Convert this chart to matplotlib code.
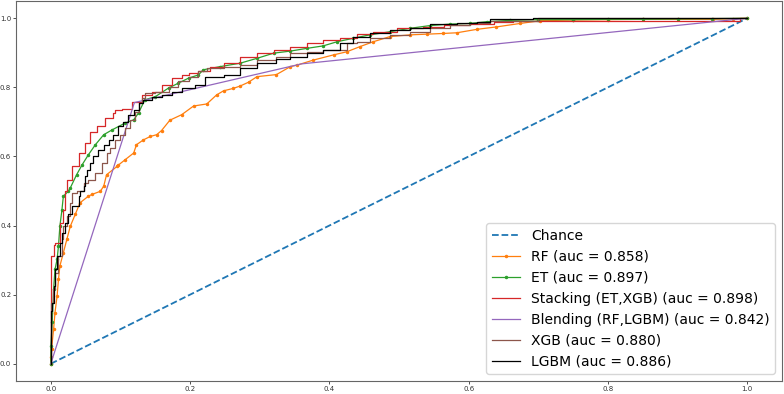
import matplotlib
matplotlib.use("Agg")
import matplotlib.pyplot as plt

# ---- data ----
chance_fpr = [0.0, 1.0]
chance_tpr = [0.0, 1.0]

rf_fpr = [0.0, 0.0, 0.001, 0.004, 0.006, 0.009, 0.011, 0.013, 0.018, 0.023, 0.028, 0.035,
          0.042, 0.054, 0.059, 0.071, 0.076, 0.080, 0.095, 0.097, 0.107, 0.119, 0.123,
          0.133, 0.143, 0.152, 0.159, 0.171, 0.188, 0.205, 0.224, 0.238, 0.248, 0.262,
          0.272, 0.284, 0.296, 0.324, 0.344, 0.353, 0.377, 0.406, 0.425, 0.444, 0.463,
          0.487, 0.516, 0.540, 0.563, 0.583, 0.612, 0.640, 0.674, 0.703, 0.75, 0.80,
          0.85, 0.90, 0.951, 0.98, 1.0]
rf_tpr = [0.0, 0.02, 0.042, 0.10, 0.148, 0.196, 0.244, 0.283, 0.321, 0.36, 0.398, 0.432,
          0.466, 0.485, 0.490, 0.499, 0.514, 0.547, 0.571, 0.575, 0.591, 0.610, 0.634,
          0.648, 0.658, 0.663, 0.675, 0.705, 0.721, 0.746, 0.752, 0.778, 0.790, 0.797,
          0.804, 0.815, 0.831, 0.837, 0.860, 0.864, 0.879, 0.894, 0.903, 0.918, 0.932,
          0.947, 0.952, 0.954, 0.956, 0.958, 0.968, 0.975, 0.985, 0.993, 0.995, 0.996,
          0.997, 0.997, 0.997, 0.999, 1.0]

et_fpr = [0.0, 0.0, 0.002, 0.004, 0.006, 0.009, 0.011, 0.013, 0.016, 0.018, 0.025, 0.028,
          0.037, 0.045, 0.054, 0.064, 0.076, 0.088, 0.107, 0.119, 0.126, 0.135, 0.150,
          0.169, 0.183, 0.198, 0.212, 0.219, 0.243, 0.272, 0.296, 0.320, 0.344, 0.368,
          0.391, 0.411, 0.434, 0.458, 0.487, 0.516, 0.545, 0.573, 0.602, 0.626, 0.66,
          0.70, 0.75, 0.80, 0.85, 0.90, 0.95, 1.0]
et_tpr = [0.0, 0.05, 0.12, 0.216, 0.273, 0.302, 0.341, 0.398, 0.446, 0.485, 0.499, 0.509,
          0.547, 0.576, 0.605, 0.634, 0.663, 0.677, 0.697, 0.706, 0.726, 0.764, 0.773,
          0.798, 0.812, 0.827, 0.836, 0.851, 0.860, 0.870, 0.884, 0.899, 0.905, 0.913,
          0.920, 0.932, 0.942, 0.952, 0.961, 0.971, 0.979, 0.983, 0.985, 0.990, 0.994,
          0.996, 0.996, 0.997, 0.997, 0.998, 0.999, 1.0]

stk_fpr = [0.0, 0.0, 0.004, 0.006, 0.013, 0.018, 0.021, 0.023, 0.030, 0.040, 0.049, 0.056,
           0.066, 0.078, 0.090, 0.092, 0.102, 0.116, 0.131, 0.145, 0.159, 0.174, 0.188,
           0.198, 0.212, 0.229, 0.248, 0.272, 0.296, 0.320, 0.344, 0.368, 0.391, 0.415,
           0.439, 0.463, 0.497, 0.535, 0.564, 0.602, 0.636, 0.664, 0.712, 0.80, 0.90,
           0.99, 1.0]
stk_tpr = [0.0, 0.216, 0.312, 0.345, 0.350, 0.408, 0.446, 0.499, 0.533, 0.571, 0.610, 0.639,
           0.672, 0.687, 0.711, 0.726, 0.735, 0.737, 0.759, 0.778, 0.788, 0.807, 0.827,
           0.836, 0.841, 0.846, 0.860, 0.870, 0.889, 0.899, 0.908, 0.918, 0.928, 0.937,
           0.942, 0.954, 0.961, 0.971, 0.976, 0.980, 0.983, 0.990, 0.991, 0.991, 0.991,
           0.991, 1.0]

bld_fpr = [0.0, 0.12, 0.36, 1.0]
bld_tpr = [0.0, 0.756, 0.868, 1.0]

xgb_fpr = [0.0, 0.0, 0.003, 0.006, 0.011, 0.016, 0.018, 0.023, 0.028, 0.030, 0.037,
           0.047, 0.054, 0.064, 0.073, 0.080, 0.085, 0.092, 0.100, 0.107, 0.114, 0.121,
           0.126, 0.131, 0.135, 0.150, 0.169, 0.183, 0.198, 0.212, 0.224, 0.248, 0.272,
           0.296, 0.324, 0.344, 0.368, 0.391, 0.425, 0.439, 0.458, 0.487, 0.516, 0.545,
           0.573, 0.602, 0.631, 0.70, 0.798, 1.0]
xgb_tpr = [0.0, 0.149, 0.177, 0.216, 0.264, 0.312, 0.360, 0.398, 0.427, 0.466, 0.495,
           0.500, 0.523, 0.533, 0.552, 0.581, 0.610, 0.624, 0.648, 0.663, 0.682, 0.706,
           0.730, 0.754, 0.769, 0.783, 0.788, 0.802, 0.817, 0.831, 0.846, 0.856, 0.860,
           0.865, 0.879, 0.889, 0.899, 0.903, 0.908, 0.928, 0.932, 0.942, 0.952, 0.961,
           0.971, 0.980, 0.987, 0.993, 1.0, 1.0]

lgbm_fpr = [0.0, 0.0, 0.001, 0.004, 0.006, 0.009, 0.013, 0.016, 0.021, 0.025, 0.030, 0.040,
            0.042, 0.047, 0.049, 0.052, 0.056, 0.061, 0.068, 0.076, 0.083, 0.090, 0.097,
            0.104, 0.111, 0.119, 0.126, 0.133, 0.145, 0.159, 0.174, 0.188, 0.207, 0.222,
            0.248, 0.272, 0.296, 0.324, 0.344, 0.368, 0.391, 0.415, 0.434, 0.458, 0.487,
            0.516, 0.545, 0.583, 0.612, 0.631, 0.693, 1.0]
lgbm_tpr = [0.0, 0.153, 0.153, 0.177, 0.225, 0.273, 0.312, 0.350, 0.379, 0.408, 0.432, 0.456,
            0.485, 0.499, 0.514, 0.543, 0.562, 0.581, 0.600, 0.620, 0.634, 0.648, 0.663,
            0.687, 0.701, 0.721, 0.735, 0.754, 0.764, 0.773, 0.778, 0.788, 0.798, 0.807,
            0.831, 0.836, 0.856, 0.870, 0.882, 0.889, 0.899, 0.908, 0.928, 0.947, 0.957,
            0.966, 0.971, 0.983, 0.985, 0.990, 0.997, 1.0]

labels = ["Chance", "RF (auc = 0.858)", "ET (auc = 0.897)",
          "Stacking (ET,XGB) (auc = 0.898)", "Blending (RF,LGBM) (auc = 0.842)",
          "XGB (auc = 0.880)", "LGBM (auc = 0.886)"]

# ---- figure ----
fig = plt.figure(figsize=(7.84, 3.94), dpi=100)
ax = fig.add_axes([16 / 784, 13 / 394, 766 / 784, 380 / 394])

lw = 0.9
ax.plot(chance_fpr, chance_tpr, linestyle="--", color="C0", lw=1.3, label=labels[0])
ax.plot(rf_fpr, rf_tpr, color="C1", marker=".", markersize=3, lw=lw, label=labels[1])
ax.plot(et_fpr, et_tpr, color="C2", marker=".", markersize=3, lw=lw, label=labels[2])
ax.plot(stk_fpr, stk_tpr, color="C3", lw=lw, drawstyle="steps-pre", label=labels[3])
ax.plot(bld_fpr, bld_tpr, color="C4", lw=lw, label=labels[4])
ax.plot(xgb_fpr, xgb_tpr, color="C5", lw=lw, drawstyle="steps-pre", label=labels[5])
ax.plot(lgbm_fpr, lgbm_tpr, color="black", lw=lw, drawstyle="steps-pre", label=labels[6])

ax.set_xlim(-0.05, 1.05)
ax.set_ylim(-0.05, 1.05)
ax.set_xticks([0.0, 0.2, 0.4, 0.6, 0.8, 1.0])
ax.set_yticks([0.0, 0.2, 0.4, 0.6, 0.8, 1.0])
ax.tick_params(labelsize=5, length=2, width=0.6, pad=1.5, colors="#333333")
for s in ax.spines.values():
    s.set_color("#666666")
    s.set_linewidth(0.8)

ax.legend(loc="lower right", fontsize=10, handlelength=2.0)

fig.savefig("out.png", dpi=100)
